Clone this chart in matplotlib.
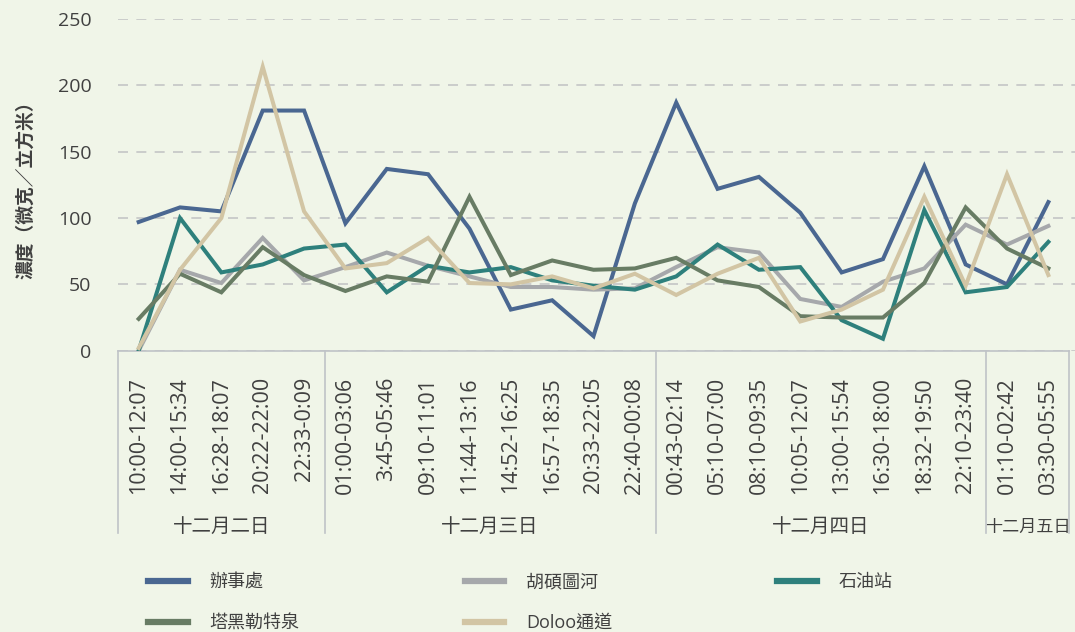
import numpy as np
import matplotlib
matplotlib.use("Agg")
import matplotlib.pyplot as plt
import matplotlib.transforms as mtransforms
from matplotlib.lines import Line2D

plt.rcParams['font.family'] = ['Open Sans', 'Noto Sans CJK TC', 'DejaVu Sans']

# time windows (x categories) and the day each block belongs to
time_labels = [
    "10:00-12:07", "14:00-15:34", "16:28-18:07", "20:22-22:00", "22:33-0:09",
    "01:00-03:06", "3:45-05:46", "09:10-11:01", "11:44-13:16", "14:52-16:25",
    "16:57-18:35", "20:33-22:05", "22:40-00:08",
    "00:43-02:14", "05:10-07:00", "08:10-09:35", "10:05-12:07", "13:00-15:54",
    "16:30-18:00", "18:32-19:50", "22:10-23:40",
    "01:10-02:42", "03:30-05:55",
]
day_labels = ["十二月二日", "十二月三日", "十二月四日", "十二月五日"]
day_sizes = [5, 8, 8, 2]

# concentrations
office = [97, 108, 105, 181, 181, 96, 137, 133, 92, 31, 38, 11, 111,
          187, 122, 131, 104, 59, 69, 139, 65, 50, 112]
hushuotu = [0, 61, 51, 85, 53, 63, 74, 64, 56, 48, 48, 46, 47,
            63, 78, 74, 39, 33, 52, 62, 95, 80, 94]
gas_station = [0, 100, 59, 65, 77, 80, 44, 64, 59, 63, 53, 49, 46,
               56, 80, 61, 63, 23, 9, 106, 44, 48, 82]
takhirt = [24, 58, 44, 78, 57, 45, 56, 52, 116, 57, 68, 61, 62,
           70, 53, 48, 26, 25, 25, 51, 108, 77, 62]
doloo = [2, 61, 100, 214, 105, 62, 66, 85, 51, 50, 56, 47, 58,
         42, 58, 70, 22, 31, 46, 116, 49, 133, 57]

series = [
    ("辦事處", office, "#4a6791"),
    ("胡碩圖河", hushuotu, "#a6a8ab"),
    ("石油站", gas_station, "#2e807c"),
    ("塔黑勒特泉", takhirt, "#687c64"),
    ("Doloo通道", doloo, "#d2c5a4"),
]

bg = "#f0f5e8"
text_col = "#404040"
axis_col = "#bfc3c7"
cjk = ['Noto Sans CJK TC', 'DejaVu Sans']

fig = plt.figure(figsize=(10.75, 6.32), dpi=100, facecolor=bg)
ax = fig.add_axes([118 / 1075, (632 - 350.7) / 632, (1075 - 118) / 1075, 331.7 / 632])
ax.set_facecolor(bg)

x = np.arange(len(time_labels))
for name, vals, col in series:
    ax.plot(x, vals, color=col, lw=2.9, label=name, solid_joinstyle="miter", zorder=3)

ax.set_ylim(0, 250)
ax.set_yticks(np.arange(0, 251, 50))
ax.set_xlim(-0.5, 22.5 + 6 / 41.6)
ax.set_xticks(x)
ax.set_xticklabels(time_labels, rotation=90, fontsize=15.5, color=text_col)
ax.tick_params(axis="x", length=0, pad=19)
ax.tick_params(axis="y", length=0, pad=19, labelsize=14, labelcolor=text_col)
ax.yaxis.grid(True, color="#c4c6c6", lw=1.2, dashes=(6, 5))
ax.set_axisbelow(True)

for s in ["top", "right", "left"]:
    ax.spines[s].set_visible(False)
ax.spines["bottom"].set_color(axis_col)
ax.spines["bottom"].set_linewidth(1.2)
ax.spines["bottom"].set_bounds(-0.5, 22.5)

ax.set_ylabel("濃度（微克／立方米）", fontsize=13.5, color=text_col,
              family=cjk, fontweight="bold", labelpad=16)

# day separators and day labels under the time labels
trans = mtransforms.blended_transform_factory(ax.transData, ax.transAxes)
edges = np.concatenate([[0], np.cumsum(day_sizes)]) - 0.5
for e in edges:
    ax.plot([e, e], [0, -0.55], color=axis_col, lw=1.2, transform=trans, clip_on=False)
for i, lab in enumerate(day_labels):
    mid = (edges[i] + edges[i + 1]) / 2
    size = 14 if day_sizes[i] > 2 else 12.3
    ax.text(mid, -0.53, lab, transform=trans, ha="center", va="center",
            fontsize=size, color=text_col, family=cjk)

# legend reads row by row in the reference, matplotlib fills by column
order = [0, 3, 1, 4, 2]
handles = [Line2D([], [], color=series[i][2], lw=4.5) for i in order]
labels = [series[i][0] for i in order]
fig.legend(handles, labels, ncol=3, loc="upper left",
           bbox_to_anchor=(148 / 1075, (632 - 573) / 632), frameon=False,
           fontsize=13, labelcolor=text_col, handlelength=2.2, handletextpad=1.2,
           columnspacing=9.15, labelspacing=1.28, borderpad=0, borderaxespad=0)

fig.savefig("out.png", dpi=100, facecolor=bg)
